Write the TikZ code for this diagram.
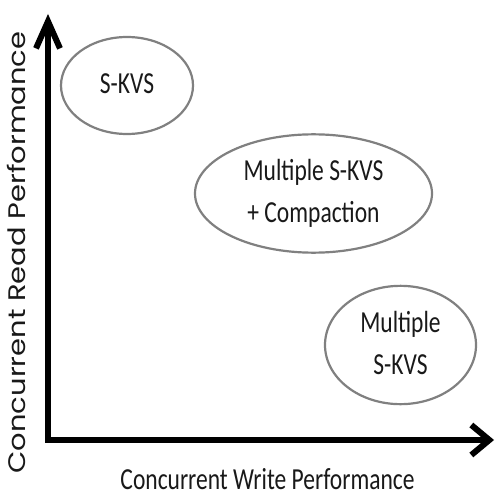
\documentclass[tikz,border=0pt]{standalone}
\usepackage{fontspec}
\setmainfont{Carlito}
\newfontfamily\ylabfont{Poppins}
\usetikzlibrary{shapes.geometric,arrows.meta}
\tikzset{
  bubble/.style={ellipse, draw=black!50, line width=2.2bp, inner sep=0pt, text=black!90},
  axisline/.style={line width=6bp, line join=miter, black,
    {Straight Barb[length=27bp,width=24bp,line width=6bp]}-{Straight Barb[length=18bp,width=30bp,line width=6bp]}},
  lbl/.style={inner sep=0pt, text=black!90, anchor=base}
}
\newcommand{\bigtxt}[1]{\scalebox{1}[1.3]{\fontsize{23.6}{32.3}\selectfont\begin{tabular}{@{}c@{}}#1\end{tabular}}}
\begin{document}
\begin{tikzpicture}[x=1bp,y=-1bp]
\useasboundingbox (0,0) rectangle (496,495);
\fill[white] (0,0) rectangle (496,495);
\coordinate (top) at (48,14);
\coordinate (corner) at (48,440);
\coordinate (right) at (494,440);
\draw[axisline] (top) -- (corner) -- (right);
\node[bubble, minimum width=132bp, minimum height=97bp] (skvs) at (127,85.5) {\bigtxt{S-KVS}};
\node[bubble, minimum width=237bp, minimum height=113bp] (mcomp) at (313.5,193.5) {\bigtxt{Multiple S-KVS\\+ Compaction}};
\node[bubble, minimum width=151bp, minimum height=96bp] (multi) at (400.5,345) {\bigtxt{Multiple\\S-KVS}};
\node[lbl] (xlab) at (267.5,489) {\scalebox{1}[1.3]{\fontsize{23.6}{28}\selectfont Concurrent Write Performance}};
\node[lbl, rotate=90] (ylab) at (25,252.5) {\scalebox{1.21}[1]{\fontsize{24}{28}\ylabfont Concurrent Read Performance}};
\end{tikzpicture}
\end{document}
